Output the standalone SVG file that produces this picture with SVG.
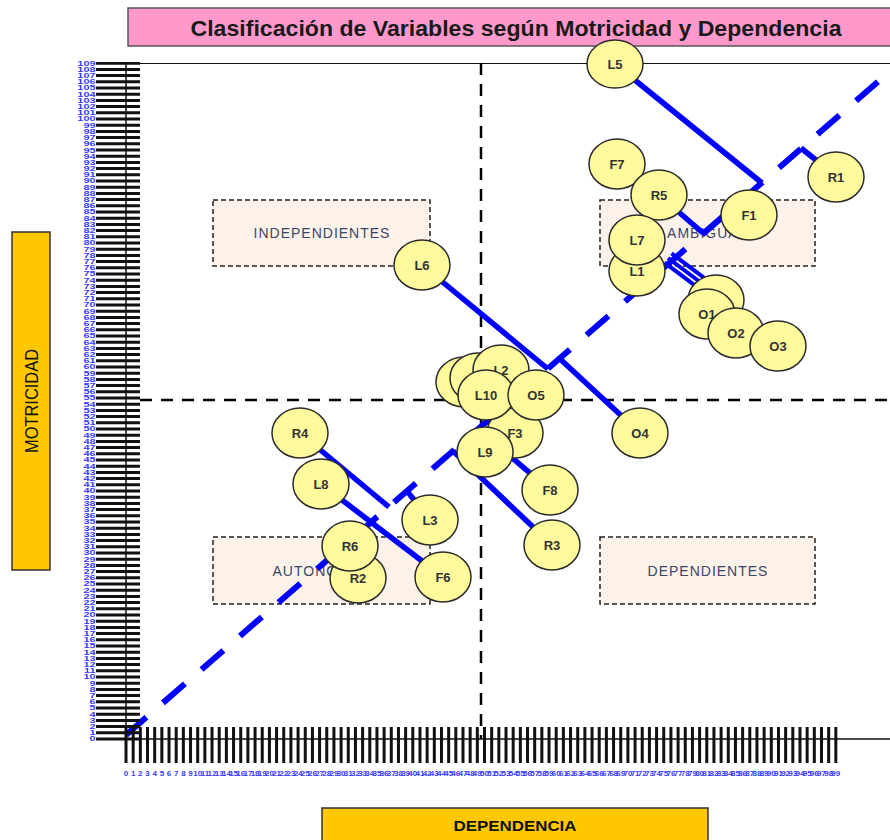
<svg xmlns="http://www.w3.org/2000/svg" width="890" height="840" viewBox="0 0 890 840">
  <style>
    .node ellipse { fill: #fffa9c; stroke: #2b2b2b; stroke-width: 1.5; }
    .node text { font: bold 13px "Liberation Sans", Arial, sans-serif; fill: #333; text-anchor: middle; }
    .link { stroke: #0000ff; stroke-width: 5.5; fill: none; }
    .strand { stroke: #0000ff; stroke-width: 4; fill: none; }
    .qbox { fill: #fdf2ea; stroke: #222; stroke-width: 1.5; stroke-dasharray: 5 3; }
    .qtext { font: 14px "Liberation Sans", Arial, sans-serif; fill: #3b4663; letter-spacing: 1px; text-anchor: middle; }
    .xl text { font: bold 8px "Liberation Sans", Arial, sans-serif; fill: #3a3aff; text-anchor: middle; }
    .yl text { font: bold 7.5px "Liberation Sans", Arial, sans-serif; fill: #3a3aff; text-anchor: end; }
    .quad { stroke: #000; stroke-width: 2.5; stroke-dasharray: 12 9; fill: none; }
    .label { fill: #ffc800; stroke: #333; stroke-width: 1.5; }
  </style>
  <rect width="890" height="840" fill="#fff"/>

  <!-- title -->
  <g id="title">
    <rect x="128" y="8" width="770" height="38" fill="#ff99cc" stroke="#555" stroke-width="1.5"/>
    <text x="516" y="36" font-family="Liberation Sans, Arial, sans-serif" font-weight="bold" font-size="22" fill="#1a1a1a" text-anchor="middle" textLength="651" lengthAdjust="spacingAndGlyphs">Clasificación de Variables según Motricidad y Dependencia</text>
  </g>

  <!-- axis titles -->
  <g id="axis-title-y">
    <rect class="label" x="12" y="232" width="38" height="338"/>
    <text transform="translate(38 401) rotate(-90)" font-family="Liberation Sans, Arial, sans-serif" font-size="18" fill="#111" text-anchor="middle" textLength="104" lengthAdjust="spacingAndGlyphs">MOTRICIDAD</text>
  </g>
  <g id="axis-title-x">
    <rect class="label" x="322" y="808" width="386" height="40"/>
    <text x="515" y="831" font-family="Liberation Sans, Arial, sans-serif" font-weight="bold" font-size="15" fill="#111" text-anchor="middle" textLength="123" lengthAdjust="spacingAndGlyphs">DEPENDENCIA</text>
  </g>

  <!-- quadrant labels -->
  <g id="q-independientes">
    <rect class="qbox" x="213" y="200" width="217" height="66"/>
    <text class="qtext" x="322" y="238">INDEPENDIENTES</text>
  </g>
  <g id="q-ambiguas">
    <rect class="qbox" x="600" y="200" width="215" height="66"/>
    <text class="qtext" x="708" y="238">AMBIGUAS</text>
  </g>
  <g id="q-autonomas">
    <rect class="qbox" x="213" y="537" width="217" height="67"/>
    <text class="qtext" x="322" y="576">AUTONOMAS</text>
  </g>
  <g id="q-dependientes">
    <rect class="qbox" x="600" y="537" width="215" height="67"/>
    <text class="qtext" x="708" y="576">DEPENDIENTES</text>
  </g>

  <!-- plot frame and quadrant dividers -->
  <g id="frame">
    <line x1="126" y1="63.5" x2="890" y2="63.5" stroke="#111" stroke-width="1.2"/>
    <line class="quad" x1="481" y1="63" x2="481" y2="739"/>
    <line class="quad" x1="140" y1="400" x2="890" y2="400"/>
  </g>

  <!-- diagonal reference -->
  <line id="diagonal" x1="126" y1="735" x2="885" y2="75.7" stroke="#0000ff" stroke-width="6" stroke-dasharray="29 22" stroke-dashoffset="2"/>

  <!-- axes with dense tick bars -->
  <g id="axes">
    <line x1="118" y1="740.5" x2="118" y2="62" stroke="#111" stroke-width="44" stroke-dasharray="3 3.2"/>
    <line x1="124.5" y1="745" x2="838" y2="745" stroke="#111" stroke-width="36" stroke-dasharray="3 4.17"/>
    <line x1="126" y1="63" x2="126" y2="746" stroke="#111" stroke-width="1.5"/>
    <line x1="120" y1="739" x2="890" y2="739" stroke="#111" stroke-width="1.5"/>
  </g>

  <g class="yl" transform="translate(95.5 0) scale(1.45 1)">
    <text y="741.5">0</text><text y="735.3">1</text><text y="729.1">2</text><text y="722.9">3</text><text y="716.7">4</text>
    <text y="710.5">5</text><text y="704.3">6</text><text y="698.1">7</text><text y="691.9">8</text><text y="685.7">9</text>
    <text y="679.5">10</text><text y="673.3">11</text><text y="667.1">12</text><text y="660.9">13</text><text y="654.7">14</text>
    <text y="648.5">15</text><text y="642.3">16</text><text y="636.1">17</text><text y="629.9">18</text><text y="623.7">19</text>
    <text y="617.5">20</text><text y="611.3">21</text><text y="605.1">22</text><text y="598.9">23</text><text y="592.7">24</text>
    <text y="586.5">25</text><text y="580.3">26</text><text y="574.1">27</text><text y="567.9">28</text><text y="561.7">29</text>
    <text y="555.5">30</text><text y="549.3">31</text><text y="543.1">32</text><text y="536.9">33</text><text y="530.7">34</text>
    <text y="524.5">35</text><text y="518.3">36</text><text y="512.1">37</text><text y="505.9">38</text><text y="499.7">39</text>
    <text y="493.5">40</text><text y="487.3">41</text><text y="481.1">42</text><text y="474.9">43</text><text y="468.7">44</text>
    <text y="462.5">45</text><text y="456.3">46</text><text y="450.1">47</text><text y="443.9">48</text><text y="437.7">49</text>
    <text y="431.5">50</text><text y="425.3">51</text><text y="419.1">52</text><text y="412.9">53</text><text y="406.7">54</text>
    <text y="400.5">55</text><text y="394.3">56</text><text y="388.1">57</text><text y="381.9">58</text><text y="375.7">59</text>
    <text y="369.5">60</text><text y="363.3">61</text><text y="357.1">62</text><text y="350.9">63</text><text y="344.7">64</text>
    <text y="338.5">65</text><text y="332.3">66</text><text y="326.1">67</text><text y="319.9">68</text><text y="313.7">69</text>
    <text y="307.5">70</text><text y="301.3">71</text><text y="295.1">72</text><text y="288.9">73</text><text y="282.7">74</text>
    <text y="276.5">75</text><text y="270.3">76</text><text y="264.1">77</text><text y="257.9">78</text><text y="251.7">79</text>
    <text y="245.5">80</text><text y="239.3">81</text><text y="233.1">82</text><text y="226.9">83</text><text y="220.7">84</text>
    <text y="214.5">85</text><text y="208.3">86</text><text y="202.1">87</text><text y="195.9">88</text><text y="189.7">89</text>
    <text y="183.5">90</text><text y="177.3">91</text><text y="171.1">92</text><text y="164.9">93</text><text y="158.7">94</text>
    <text y="152.5">95</text><text y="146.3">96</text><text y="140.1">97</text><text y="133.9">98</text><text y="127.7">99</text>
    <text y="121.5">100</text><text y="115.3">101</text><text y="109.1">102</text><text y="102.9">103</text><text y="96.7">104</text>
    <text y="90.5">105</text><text y="84.3">106</text><text y="78.1">107</text><text y="71.9">108</text><text y="65.7">109</text>
  </g>

  <g class="xl" transform="translate(0 776)">
    <text x="126">0</text><text x="133.2">1</text><text x="140.3">2</text><text x="147.5">3</text><text x="154.7">4</text>
    <text x="161.9">5</text><text x="169">6</text><text x="176.2">7</text><text x="183.4">8</text><text x="190.5">9</text>
    <text x="197.7">10</text><text x="204.9">11</text><text x="212">12</text><text x="219.2">13</text><text x="226.4">14</text>
    <text x="233.6">15</text><text x="240.7">16</text><text x="247.9">17</text><text x="255.1">18</text><text x="262.2">19</text>
    <text x="269.4">20</text><text x="276.6">21</text><text x="283.7">22</text><text x="290.9">23</text><text x="298.1">24</text>
    <text x="305.3">25</text><text x="312.4">26</text><text x="319.6">27</text><text x="326.8">28</text><text x="333.9">29</text>
    <text x="341.1">30</text><text x="348.3">31</text><text x="355.4">32</text><text x="362.6">33</text><text x="369.8">34</text>
    <text x="377">35</text><text x="384.1">36</text><text x="391.3">37</text><text x="398.5">38</text><text x="405.6">39</text>
    <text x="412.8">40</text><text x="420">41</text><text x="427.1">42</text><text x="434.3">43</text><text x="441.5">44</text>
    <text x="448.7">45</text><text x="455.8">46</text><text x="463">47</text><text x="470.2">48</text><text x="477.3">49</text>
    <text x="484.5">50</text><text x="491.7">51</text><text x="498.8">52</text><text x="506">53</text><text x="513.2">54</text>
    <text x="520.4">55</text><text x="527.5">56</text><text x="534.7">57</text><text x="541.9">58</text><text x="549">59</text>
    <text x="556.2">60</text><text x="563.4">61</text><text x="570.5">62</text><text x="577.7">63</text><text x="584.9">64</text>
    <text x="592.1">65</text><text x="599.2">66</text><text x="606.4">67</text><text x="613.6">68</text><text x="620.7">69</text>
    <text x="627.9">70</text><text x="635.1">71</text><text x="642.2">72</text><text x="649.4">73</text><text x="656.6">74</text>
    <text x="663.8">75</text><text x="670.9">76</text><text x="678.1">77</text><text x="685.3">78</text><text x="692.4">79</text>
    <text x="699.6">80</text><text x="706.8">81</text><text x="713.9">82</text><text x="721.1">83</text><text x="728.3">84</text>
    <text x="735.5">85</text><text x="742.6">86</text><text x="749.8">87</text><text x="757">88</text><text x="764.1">89</text>
    <text x="771.3">90</text><text x="778.5">91</text><text x="785.6">92</text><text x="792.8">93</text><text x="800">94</text>
    <text x="807.2">95</text><text x="814.3">96</text><text x="821.5">97</text><text x="828.7">98</text><text x="835.8">99</text>
  </g>

  <!-- displacement connectors -->
  <g id="connectors">
    <line class="link" x1="615" y1="64" x2="762" y2="183"/>
    <line class="link" x1="659" y1="195" x2="703" y2="233"/>
    <polyline class="link" points="801,148 837,177"/>
    <line class="strand" x1="664.5" y1="262.7" x2="704.5" y2="292.7"/>
    <line class="strand" x1="668" y1="258" x2="708" y2="288"/>
    <line class="strand" x1="671.5" y1="253.3" x2="711.5" y2="283.3"/>
    <line class="link" x1="422" y1="265" x2="548" y2="369"/>
    <line class="link" x1="559" y1="358" x2="640" y2="433"/>
    <line class="link" x1="453" y1="451" x2="552" y2="545"/>
    <line class="link" x1="478" y1="429" x2="550" y2="490"/>
    <line class="link" x1="300" y1="433" x2="389" y2="507"/>
    <line class="link" x1="321" y1="484" x2="443" y2="577"/>
    <line class="link" x1="407" y1="491" x2="430" y2="520"/>
  </g>

  <!-- variables -->
  <g class="node" id="n-R4"><ellipse cx="300" cy="433" rx="28" ry="25"/><text x="300" y="437.5">R4</text></g>
  <g class="node" id="n-L8"><ellipse cx="321" cy="484" rx="28" ry="25"/><text x="321" y="488.5">L8</text></g>
  <g class="node" id="n-R2"><ellipse cx="358" cy="578" rx="28" ry="25"/><text x="358" y="582.5">R2</text></g>
  <g class="node" id="n-R6"><ellipse cx="350" cy="546" rx="28" ry="25"/><text x="350" y="550.5">R6</text></g>
  <g class="node" id="n-L3"><ellipse cx="430" cy="520" rx="28" ry="25"/><text x="430" y="524.5">L3</text></g>
  <g class="node" id="n-F6"><ellipse cx="443" cy="577" rx="28" ry="25"/><text x="443" y="581.5">F6</text></g>
  <g class="node" id="n-L6"><ellipse cx="422" cy="265" rx="28" ry="25"/><text x="422" y="269.5">L6</text></g>
  <g class="node" id="n-a"><ellipse cx="464" cy="382" rx="28" ry="25"/></g>
  <g class="node" id="n-b"><ellipse cx="478" cy="378" rx="28" ry="25"/></g>
  <g class="node" id="n-L2"><ellipse cx="501" cy="370" rx="28" ry="25"/><text x="501" y="374.5">L2</text></g>
  <g class="node" id="n-F3"><ellipse cx="515" cy="433" rx="28" ry="25"/><text x="515" y="437.5">F3</text></g>
  <g class="node" id="n-L10"><ellipse cx="486" cy="395" rx="28" ry="25"/><text x="486" y="399.5">L10</text></g>
  <g class="node" id="n-O5"><ellipse cx="536" cy="395" rx="28" ry="25"/><text x="536" y="399.5">O5</text></g>
  <g class="node" id="n-L9"><ellipse cx="485" cy="452" rx="28" ry="25"/><text x="485" y="456.5">L9</text></g>
  <g class="node" id="n-F8"><ellipse cx="550" cy="490" rx="28" ry="25"/><text x="550" y="494.5">F8</text></g>
  <g class="node" id="n-R3"><ellipse cx="552" cy="545" rx="28" ry="25"/><text x="552" y="549.5">R3</text></g>
  <g class="node" id="n-O4"><ellipse cx="640" cy="433" rx="28" ry="25"/><text x="640" y="437.5">O4</text></g>
  <g class="node" id="n-L5"><ellipse cx="615" cy="64" rx="28" ry="24"/><text x="615" y="68.5">L5</text></g>
  <g class="node" id="n-F7"><ellipse cx="617" cy="164" rx="28" ry="25"/><text x="617" y="168.5">F7</text></g>
  <g class="node" id="n-R5"><ellipse cx="659" cy="195" rx="28" ry="25"/><text x="659" y="199.5">R5</text></g>
  <g class="node" id="n-L1"><ellipse cx="637" cy="271" rx="28" ry="25"/><text x="637" y="275.5">L1</text></g>
  <g class="node" id="n-L7"><ellipse cx="637" cy="240" rx="28" ry="25"/><text x="637" y="244.5">L7</text></g>
  <g class="node" id="n-F1"><ellipse cx="749" cy="215" rx="28" ry="25"/><text x="749" y="219.5">F1</text></g>
  <g class="node" id="n-R1"><ellipse cx="836" cy="177" rx="28" ry="25"/><text x="836" y="181.5">R1</text></g>
  <g class="node" id="n-h"><ellipse cx="716" cy="300" rx="28" ry="25"/></g>
  <g class="node" id="n-O1"><ellipse cx="707" cy="314" rx="28" ry="25"/><text x="707" y="318.5">O1</text></g>
  <g class="node" id="n-O2"><ellipse cx="736" cy="333" rx="28" ry="25"/><text x="736" y="337.5">O2</text></g>
  <g class="node" id="n-O3"><ellipse cx="778" cy="346" rx="28" ry="25"/><text x="778" y="350.5">O3</text></g>
</svg>
